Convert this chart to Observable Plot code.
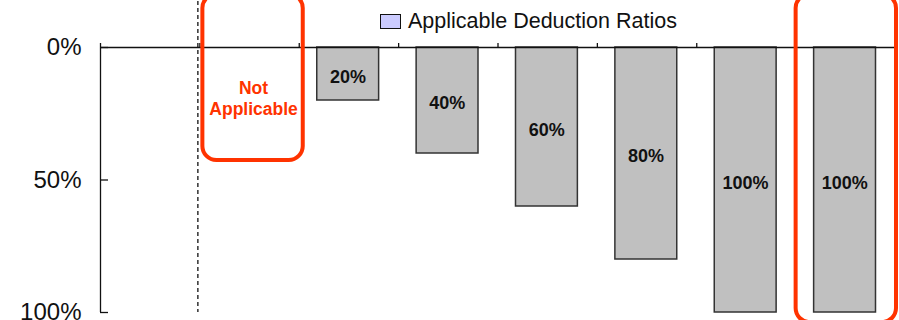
<!DOCTYPE html>
<html>
<head>
<meta charset="utf-8">
<script src="https://cdn.jsdelivr.net/npm/d3@7"></script>
<script src="https://cdn.jsdelivr.net/npm/@observablehq/plot@0.6"></script>
<style>
  body { margin: 0; background: white; }
  #wrap { position: relative; width: 899px; height: 320px; overflow: hidden; font-family: "Liberation Sans", Arial, sans-serif; }
  #legend { position: absolute; left: 380px; top: 9px; display: flex; align-items: center; font-size: 21.5px; color: #111; }
  #legend .sw { width: 19px; height: 13px; background: #ccccff; border: 1.5px solid #111; margin-right: 7px; }
</style>
</head>
<body>
<div id="wrap"><div id="legend"><span class="sw"></span><span id="legendText"></span></div></div>
<script>
// Data
const slots = ["Slot 1", "Slot 2", "Slot 3", "Slot 4", "Slot 5", "Slot 6", "Slot 7", "Slot 8"];
const ratios = [null, null, 0.2, 0.4, 0.6, 0.8, 1.0, 1.0];
const yTicks = [0, 0.5, 1];
const notApplicableSlot = 1;
const highlightSlots = [1, 7];
const legendLabel = "Applicable Deduction Ratios";
const notApplicableLabel = "Not\nApplicable";

document.getElementById("legendText").textContent = legendLabel;

const data = slots.map((s, i) => ({slot: s, i, v: ratios[i]})).filter(d => d.v != null);
const red = "#ff3300";
const fmt = d3.format(".0%");

const chart = Plot.plot({
  width: 899,
  height: 320,
  marginTop: 47,
  marginBottom: 8,
  marginLeft: 100,
  marginRight: 4,
  style: {fontFamily: "Liberation Sans, Arial, sans-serif", background: "transparent", overflow: "visible"},
  x: {domain: [0, slots.length], axis: null},
  y: {domain: [0, 1], range: [47, 312], axis: null},
  marks: [
    // bars
    Plot.rectY(data, {x1: d => d.i, x2: d => d.i + 1, y1: 0, y2: d => d.v,
      insetLeft: 18, insetRight: 19.5, fill: "#c0c0c0", stroke: "#333", strokeWidth: 1.5}),
    // bar labels
    Plot.text(data, {x: d => d.i + 0.5, y: d => d.v / 2, text: d => fmt(d.v),
      fontSize: 18, fontWeight: "bold", fill: "#111", dx: -1, dy: 3}),
    // dashed separator
    Plot.ruleX([notApplicableSlot], {x: d => d, y1: -0.2, y2: 1, dx: -2,
      stroke: "#111", strokeWidth: 1.3, strokeDasharray: "4,3"}),
    // axis lines
    Plot.ruleY([0], {x1: 0, x2: slots.length, stroke: "#111", strokeWidth: 1.3}),
    Plot.ruleX([0], {y1: 0, y2: 1, stroke: "#111", strokeWidth: 1.3}),
    // x ticks at slot boundaries (upward)
    Plot.ruleX(d3.range(slots.length + 1), {x: d => d, y1: 0, y2: 0, insetTop: -4, stroke: "#111", strokeWidth: 1.3}),
    // y ticks (inward)
    Plot.ruleY(yTicks, {y: d => d, x1: 0, x2: 0, insetRight: -8, stroke: "#111", strokeWidth: 1.3}),
    // y tick labels
    Plot.axisY(yTicks, {tickSize: 0, tickPadding: 19, fontSize: 24, tickFormat: fmt, label: null, fill: "#111"}),
    // highlight boxes
    Plot.rect([highlightSlots[0]], {x1: d => d, x2: d => d + 1, y1: -0.2, y2: 0.426,
      insetLeft: 3, insetRight: -4, rx: 14, fill: "none", stroke: red, strokeWidth: 4}),
    Plot.rect([highlightSlots[1]], {x1: d => d, x2: d => d + 1, y1: -0.2, y2: 1.038,
      insetLeft: 0, insetRight: -1, rx: 14, fill: "none", stroke: red, strokeWidth: 4}),
    // Not Applicable label
    Plot.text([notApplicableLabel], {x: notApplicableSlot + 0.5, y: 0.19, text: d => d, dx: 4,
      fontSize: 17.5, fontWeight: "bold", fill: red, lineHeight: 1.2})
  ]
});
chart.style.position = "absolute";
chart.style.left = "0px";
chart.style.top = "0px";
const wrap = document.getElementById("wrap");
wrap.insertBefore(chart, wrap.firstChild);
</script>
</body>
</html>
